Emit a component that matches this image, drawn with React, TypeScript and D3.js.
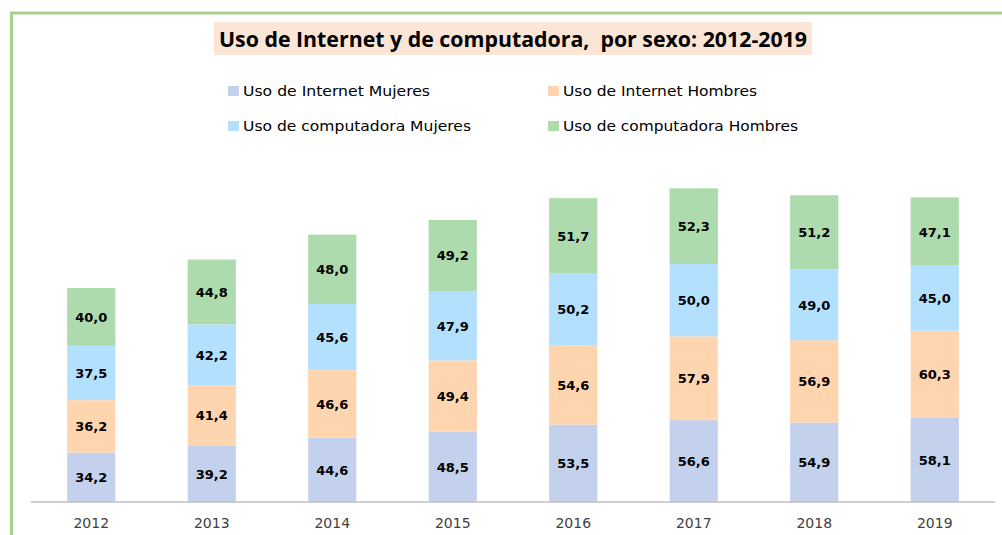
import React from "react";
import * as d3 from "d3";

const years = ["2012", "2013", "2014", "2015", "2016", "2017", "2018", "2019"];
const internetMujeres = [34.2, 39.2, 44.6, 48.5, 53.5, 56.6, 54.9, 58.1];
const internetHombres = [36.2, 41.4, 46.6, 49.4, 54.6, 57.9, 56.9, 60.3];
const compMujeres = [37.5, 42.2, 45.6, 47.9, 50.2, 50.0, 49.0, 45.0];
const compHombres = [40.0, 44.8, 48.0, 49.2, 51.7, 52.3, 51.2, 47.1];
const seriesNames = [
  "Uso de Internet Mujeres",
  "Uso de Internet Hombres",
  "Uso de computadora Mujeres",
  "Uso de computadora Hombres",
];
const colors = ["#C3D1EC", "#FFD5B0", "#B3E0FF", "#ADDBAD"];
const title = "Uso de Internet y de computadora,  por sexo: 2012-2019";

export default function App() {
  const W = 1002, H = 535;
  const series = [internetMujeres, internetHombres, compMujeres, compHombres];
  const x = d3.scaleBand<string>().domain(years).range([31, 995]).paddingInner(0.6).paddingOuter(0.3);
  const y = d3.scaleLinear().domain([0, 250]).range([502, 140.3]);
  const rows = years.map((yr, i) => {
    const o: any = { year: yr };
    series.forEach((s, k) => (o["s" + k] = s[i]));
    return o;
  });
  const stack = d3.stack<any>().keys(["s0", "s1", "s2", "s3"])(rows);
  const titleFont = "'Open Sans', sans-serif";
  const font = "'DejaVu Sans', Verdana, sans-serif";
  const legendPos = [
    [228, 86, 187], [548, 86, 194], [228, 121, 228], [548, 121, 235],
  ];
  return (
    <svg width={W} height={H} style={{ position: "absolute", left: 0, top: 0 }}>
      <rect x={0} y={0} width={W} height={H} fill="#fff" />
      <rect x={11.5} y={13} width={W + 10} height={H + 10} fill="none" stroke="#A9D18E" strokeWidth={3} />
      <rect x={214} y={22} width={598} height={33} fill="#FBE5D6" />
      <text x={513} y={47} textAnchor="middle" fontFamily={titleFont} fontWeight="bold" fontSize={21}
        textLength={588} lengthAdjust="spacingAndGlyphs" fill="#000" style={{ whiteSpace: "pre" }}>{title}</text>
      {seriesNames.map((n, k) => (
        <g key={n}>
          <rect x={legendPos[k][0]} y={legendPos[k][1]} width={11} height={10} fill={colors[k]} />
          <text x={legendPos[k][0] + 15} y={legendPos[k][1] + 10} fontFamily={font} fontSize={14} fill="#000"
            textLength={legendPos[k][2]} lengthAdjust="spacingAndGlyphs">{n}</text>
        </g>
      ))}
      {stack.map((layer, k) => (
        <g key={k}>
          {layer.map((d, i) => (
            <g key={i}>
              <rect x={x(years[i])} y={y(d[1])} width={x.bandwidth()} height={y(d[0]) - y(d[1])} fill={colors[k]} />
              <text x={(x(years[i]) as number) + x.bandwidth() / 2} y={(y(d[0]) + y(d[1])) / 2 + 5}
                textAnchor="middle" fontFamily={font} fontWeight="bold" fontSize={13} fill="#000">
                {series[k][i].toFixed(1).replace(".", ",")}
              </text>
            </g>
          ))}
        </g>
      ))}
      <line x1={31} x2={995} y1={502} y2={502} stroke="#BFBFBF" strokeWidth={1.5} />
      {years.map((yr) => (
        <text key={yr} x={(x(yr) as number) + x.bandwidth() / 2} y={528} textAnchor="middle"
          fontFamily={font} fontSize={14} fill="#404040">{yr}</text>
      ))}
    </svg>
  );
}
